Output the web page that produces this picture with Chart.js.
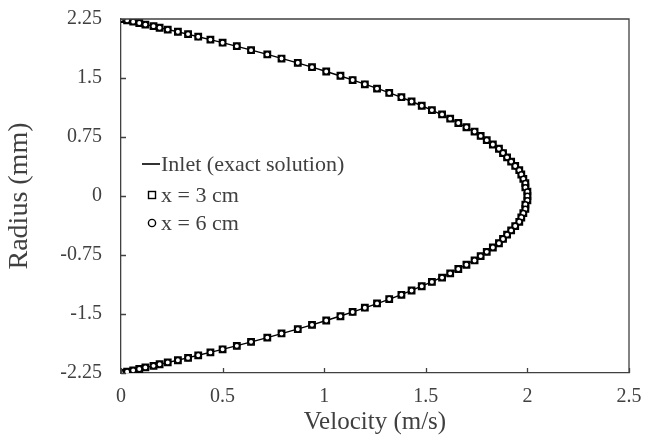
<!DOCTYPE html>
<html>
<head>
<meta charset="utf-8">
<script src="https://cdn.jsdelivr.net/npm/chart.js@4.4.0/dist/chart.umd.min.js"></script>
<style>
  html, body { margin:0; padding:0; background:#fff; }
  #wrap { width:646px; height:445px; }
</style>
</head>
<body>
<div id="wrap"><canvas id="c" width="646" height="445"></canvas></div>
<script>
// radius positions (mm), top wall to bottom wall
const radius = [2.25, 2.234, 2.216, 2.199, 2.179, 2.159, 2.139, 2.115, 2.088, 2.058, 2.025, 1.988, 1.949, 1.905, 1.854, 1.8, 1.747, 1.693, 1.638, 1.583, 1.529, 1.474, 1.42, 1.365, 1.31, 1.256, 1.201, 1.147, 1.092, 1.037, 0.983, 0.928, 0.874, 0.819, 0.764, 0.71, 0.655, 0.601, 0.546, 0.491, 0.437, 0.382, 0.328, 0.273, 0.218, 0.164, 0.109, 0.055, 0, -0.055, -0.109, -0.164, -0.218, -0.273, -0.328, -0.382, -0.437, -0.491, -0.546, -0.601, -0.655, -0.71, -0.764, -0.819, -0.874, -0.928, -0.983, -1.037, -1.092, -1.147, -1.201, -1.256, -1.31, -1.365, -1.42, -1.474, -1.529, -1.583, -1.638, -1.693, -1.747, -1.8, -1.854, -1.905, -1.949, -1.988, -2.025, -2.058, -2.088, -2.115, -2.139, -2.159, -2.179, -2.199, -2.216, -2.234, -2.25];

// velocity (m/s)
const vInlet = [0, 0.028, 0.06, 0.09, 0.124, 0.159, 0.193, 0.233, 0.278, 0.327, 0.38, 0.439, 0.499, 0.566, 0.642, 0.72, 0.794, 0.868, 0.94, 1.01, 1.076, 1.142, 1.203, 1.264, 1.322, 1.377, 1.43, 1.48, 1.529, 1.575, 1.618, 1.66, 1.698, 1.735, 1.769, 1.801, 1.831, 1.857, 1.882, 1.905, 1.925, 1.942, 1.958, 1.971, 1.981, 1.989, 1.995, 1.999, 2, 1.999, 1.995, 1.989, 1.981, 1.971, 1.958, 1.942, 1.925, 1.905, 1.882, 1.857, 1.831, 1.801, 1.769, 1.735, 1.698, 1.66, 1.618, 1.575, 1.529, 1.48, 1.43, 1.377, 1.322, 1.264, 1.203, 1.142, 1.076, 1.01, 0.94, 0.868, 0.794, 0.72, 0.642, 0.566, 0.499, 0.439, 0.38, 0.327, 0.278, 0.233, 0.193, 0.159, 0.124, 0.09, 0.06, 0.028, 0];
const v3cm = [0, 0.03, 0.06, 0.09, 0.12, 0.16, 0.19, 0.23, 0.28, 0.33, 0.38, 0.44, 0.5, 0.57, 0.64, 0.72, 0.79, 0.87, 0.94, 1.01, 1.08, 1.14, 1.2, 1.26, 1.32, 1.38, 1.43, 1.48, 1.53, 1.58, 1.62, 1.66, 1.7, 1.74, 1.77, 1.8, 1.83, 1.86, 1.88, 1.9, 1.92, 1.94, 1.96, 1.97, 1.98, 1.99, 1.99, 2, 2, 2, 1.99, 1.99, 1.98, 1.97, 1.96, 1.94, 1.92, 1.9, 1.88, 1.86, 1.83, 1.8, 1.77, 1.74, 1.7, 1.66, 1.62, 1.58, 1.53, 1.48, 1.43, 1.38, 1.32, 1.26, 1.2, 1.14, 1.08, 1.01, 0.94, 0.87, 0.79, 0.72, 0.64, 0.57, 0.5, 0.44, 0.38, 0.33, 0.28, 0.23, 0.19, 0.16, 0.12, 0.09, 0.06, 0.03, 0];
const v6cm = [0, 0.03, 0.06, 0.09, 0.12, 0.16, 0.19, 0.23, 0.28, 0.33, 0.38, 0.44, 0.5, 0.57, 0.64, 0.72, 0.79, 0.87, 0.94, 1.01, 1.08, 1.14, 1.2, 1.26, 1.32, 1.38, 1.43, 1.48, 1.53, 1.58, 1.62, 1.66, 1.7, 1.74, 1.77, 1.8, 1.83, 1.86, 1.88, 1.9, 1.92, 1.94, 1.96, 1.97, 1.98, 1.99, 1.99, 2, 2, 2, 1.99, 1.99, 1.98, 1.97, 1.96, 1.94, 1.92, 1.9, 1.88, 1.86, 1.83, 1.8, 1.77, 1.74, 1.7, 1.66, 1.62, 1.58, 1.53, 1.48, 1.43, 1.38, 1.32, 1.26, 1.2, 1.14, 1.08, 1.01, 0.94, 0.87, 0.79, 0.72, 0.64, 0.57, 0.5, 0.44, 0.38, 0.33, 0.28, 0.23, 0.19, 0.16, 0.12, 0.09, 0.06, 0.03, 0];

const seriesNames = ["Inlet (exact solution)", "x = 3 cm", "x = 6 cm"];
const xTicks = [0, 0.5, 1, 1.5, 2, 2.5];
const xTickLabels = ["0", "0.5", "1", "1.5", "2", "2.5"];
const yTicks = [2.25, 1.5, 0.75, 0, -0.75, -1.5, -2.25];
const yTickLabels = ["2.25", "1.5", "0.75", "0", "-0.75", "-1.5", "-2.25"];

const FONT = "'Liberation Serif', 'Times New Roman', serif";
const INK = "#404040";

const pts = v => radius.map((r, i) => ({ x: v[i], y: r }));

// frame, inside ticks and the little legend box
const decor = {
  id: "decor",
  afterDraw(chart){
    const { ctx, chartArea: a, scales: { x, y } } = chart;
    ctx.save();
    ctx.strokeStyle = INK;
    ctx.lineWidth = 1.3;
    ctx.beginPath();
    ctx.moveTo(a.left, a.top); ctx.lineTo(a.right, a.top); ctx.lineTo(a.right, a.bottom);
    xTicks.forEach(v => { const px = Math.round(x.getPixelForValue(v)) + 0.5; ctx.moveTo(px, a.bottom); ctx.lineTo(px, a.bottom - 5); });
    yTicks.forEach(v => { const py = Math.round(y.getPixelForValue(v)) + 0.5; ctx.moveTo(a.left, py); ctx.lineTo(a.left + 5, py); });
    ctx.stroke();

    // legend
    const lx = 142, tx = 161, rows = [164, 195, 223];
    ctx.font = "22px " + FONT;
    ctx.fillStyle = INK;
    ctx.textBaseline = "middle";
    ctx.strokeStyle = "#000";
    ctx.lineWidth = 1.6;
    ctx.beginPath(); ctx.moveTo(lx, rows[0]); ctx.lineTo(lx + 18, rows[0]); ctx.stroke();
    ctx.lineWidth = 1.4;
    ctx.strokeRect(148.5, rows[1] - 3.5, 7, 7);
    ctx.beginPath(); ctx.arc(152, rows[2], 3.6, 0, Math.PI * 2); ctx.stroke();
    seriesNames.forEach((s, i) => ctx.fillText(s, tx, rows[i] + 1));
    ctx.restore();
  }
};

new Chart(document.getElementById("c"), {
  type: "scatter",
  data: {
    datasets: [
      { label: seriesNames[0], data: pts(vInlet), showLine: true, borderColor: "#000", borderWidth: 1.4, pointRadius: 0, order: 3 },
      { label: seriesNames[1], data: pts(v3cm), pointStyle: "rect", pointRadius: 4.4, borderColor: "#000", backgroundColor: "#fff", borderWidth: 1.6, order: 2 },
      { label: seriesNames[2], data: pts(v6cm), pointStyle: "circle", pointRadius: 2.7, borderColor: "#000", backgroundColor: "#fff", borderWidth: 1.5, order: 1 }
    ]
  },
  options: {
    responsive: false,
    animation: false,
    events: [],
    layout: { padding: { left: 0, right: 17, top: 19, bottom: 0 } },
    plugins: { legend: { display: false }, tooltip: { enabled: false } },
    scales: {
      x: {
        type: "linear", min: 0, max: 2.5,
        afterBuildTicks: s => { s.ticks = xTicks.map(v => ({ value: v })); },
        afterFit: s => { s.height = 72; s.paddingLeft = 0; s.paddingRight = 0; },
        grid: { drawOnChartArea: false, drawTicks: false },
        border: { color: INK, width: 1.3 },
        ticks: { font: { family: FONT, size: 20 }, color: INK, padding: 12, maxRotation: 0,
          callback: (v, i) => xTickLabels[i] },
        title: { display: true, text: "Velocity (m/s)", font: { family: FONT, size: 25 }, color: INK, padding: { top: 0, bottom: 8 } }
      },
      y: {
        type: "linear", min: -2.25, max: 2.25,
        afterBuildTicks: s => { s.ticks = yTicks.map(v => ({ value: v })); },
        afterFit: s => { s.width = 121; s.paddingTop = 0; s.paddingBottom = 0; },
        grid: { drawOnChartArea: false, drawTicks: false },
        border: { color: INK, width: 1.3 },
        ticks: { font: { family: FONT, size: 20 }, color: INK, padding: 19,
          callback: (v, i) => yTickLabels[i] },
        title: { display: true, text: "Radius (mm)", font: { family: FONT, size: 28 }, color: INK, padding: { top: 3, bottom: 0 } }
      }
    }
  },
  plugins: [decor]
});
</script>
</body>
</html>
